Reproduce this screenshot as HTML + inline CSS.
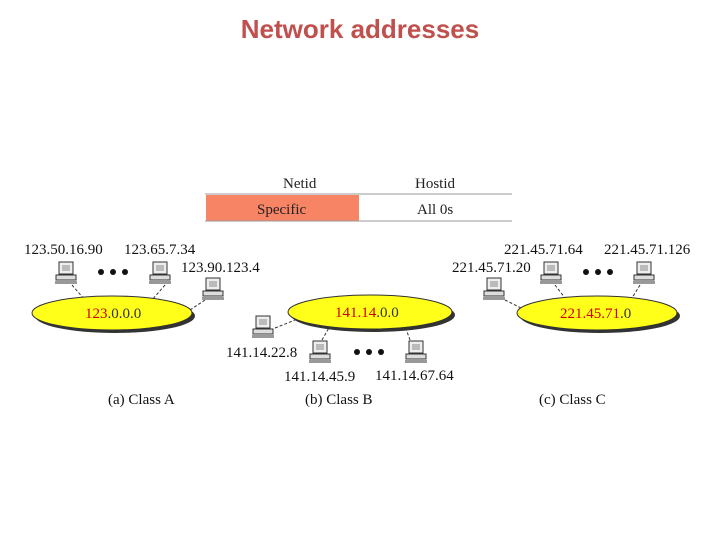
<html><body style="margin:0;width:720px;height:540px;background:#fff;position:relative;font-family:'Liberation Serif',serif;overflow:hidden">
<div style="position:absolute;top:14px;width:720px;text-align:center;font:bold 26px 'Liberation Sans',sans-serif;color:#c0504d">Network addresses</div>
<svg width="720" height="540" style="position:absolute;left:0;top:0" font-family="Liberation Serif" font-size="15">
<defs><g id="pc"><rect x="-7" y="-12" width="14" height="12" fill="#eee" stroke="#333"/><rect x="-4" y="-9" width="8" height="6" fill="#bbb"/><rect x="-10" y="1" width="20" height="5" fill="#ddd" stroke="#333"/><rect x="-11" y="7" width="22" height="3" fill="#999"/></g></defs>
<text x="283" y="188" fill="#222">Netid</text><text x="415" y="188" fill="#222">Hostid</text>
<line x1="205" y1="194" x2="512" y2="194" stroke="#999"/>
<rect x="206" y="195" width="153" height="26" fill="#f88466"/>
<line x1="205" y1="221" x2="512" y2="221" stroke="#999"/>
<text x="257" y="214" fill="#222">Specific</text><text x="417" y="214" fill="#222">All 0s</text>
<g stroke="#333" stroke-dasharray="3,2"><line x1="72" y1="285" x2="85" y2="300"/><line x1="165" y1="285" x2="152" y2="300"/><line x1="205" y1="300" x2="190" y2="310"/>
<line x1="275" y1="328" x2="300" y2="318"/><line x1="322" y1="340" x2="330" y2="326"/><line x1="410" y1="340" x2="405" y2="326"/>
<line x1="505" y1="300" x2="525" y2="310"/><line x1="555" y1="285" x2="565" y2="298"/><line x1="640" y1="285" x2="632" y2="298"/></g>
<g fill="#333"><ellipse cx="115" cy="316" rx="80" ry="17"/><ellipse cx="373" cy="315" rx="82" ry="17"/><ellipse cx="600" cy="316" rx="80" ry="17"/></g>
<g fill="#ffff1a" stroke="#333"><ellipse cx="112" cy="313" rx="80" ry="17"/><ellipse cx="370" cy="312" rx="82" ry="17"/><ellipse cx="597" cy="313" rx="80" ry="17"/></g>
<text x="85" y="318" fill="#333"><tspan fill="#c00">123</tspan>.0.0.0</text>
<text x="335" y="317" fill="#333"><tspan fill="#c00">141.14</tspan>.0.0</text>
<text x="560" y="318" fill="#333"><tspan fill="#c00">221.45.71</tspan>.0</text>
<g fill="#111"><text x="24" y="254">123.50.16.90</text><text x="124" y="254">123.65.7.34</text><text x="181" y="272">123.90.123.4</text>
<text x="226" y="357">141.14.22.8</text><text x="284" y="381">141.14.45.9</text><text x="375" y="380">141.14.67.64</text>
<text x="504" y="254">221.45.71.64</text><text x="604" y="254">221.45.71.126</text><text x="452" y="272">221.45.71.20</text>
<text x="108" y="404">(a) Class A</text><text x="305" y="404">(b) Class B</text><text x="539" y="404">(c) Class C</text></g>
<g fill="#111"><circle cx="101" cy="272" r="3"/><circle cx="113" cy="272" r="3"/><circle cx="125" cy="272" r="3"/>
<circle cx="357" cy="352" r="3"/><circle cx="369" cy="352" r="3"/><circle cx="381" cy="352" r="3"/>
<circle cx="586" cy="272" r="3"/><circle cx="598" cy="272" r="3"/><circle cx="610" cy="272" r="3"/></g>
<use href="#pc" x="66" y="274"/><use href="#pc" x="160" y="274"/><use href="#pc" x="213" y="290"/>
<use href="#pc" x="263" y="328"/><use href="#pc" x="320" y="353"/><use href="#pc" x="416" y="353"/>
<use href="#pc" x="494" y="290"/><use href="#pc" x="551" y="274"/><use href="#pc" x="644" y="274"/>
</svg></body></html>
